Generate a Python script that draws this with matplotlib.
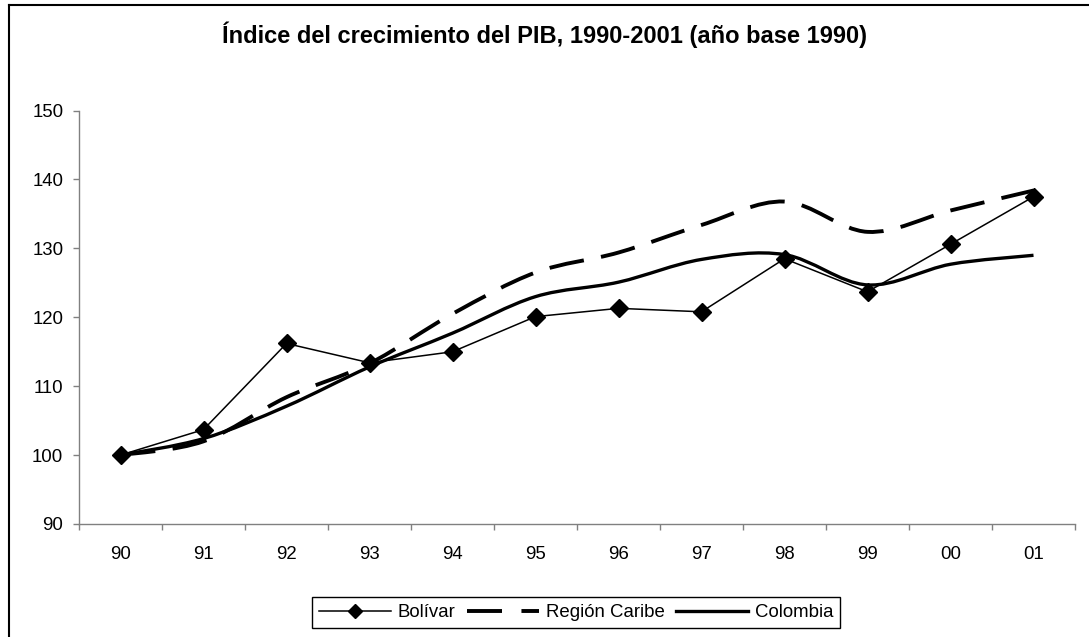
import matplotlib
matplotlib.use('Agg')
import matplotlib.pyplot as plt
import numpy as np
from matplotlib.path import Path
from matplotlib.patches import PathPatch
from matplotlib.lines import Line2D

plt.rcParams['font.family'] = ['Liberation Sans', 'DejaVu Sans']

years = ['90', '91', '92', '93', '94', '95', '96', '97', '98', '99', '00', '01']
bolivar = [100, 103.7, 116.2, 113.4, 115.0, 120.1, 121.3, 120.8, 128.5, 123.7, 130.6, 137.5]
caribe = [100, 102.0, 108.4, 113.3, 120.5, 126.5, 129.4, 133.4, 136.8, 132.4, 135.5, 138.4]
colombia = [100, 102.4, 107.1, 112.8, 117.7, 123.0, 125.1, 128.4, 129.1, 124.7, 127.7, 129.0]
labels = ['Bolívar', 'Región Caribe', 'Colombia']
title = 'Índice del crecimiento del PIB, 1990-2001 (año base 1990)'

W, H = 1089, 637
fig = plt.figure(figsize=(W / 100, H / 100), dpi=100)
ax = fig.add_axes([79 / W, 1 - 524 / H, (1075 - 79) / W, (524 - 110.6) / H])

x = np.arange(len(years))


def smooth_path(xs, ys):
    pts = np.column_stack([xs, ys]).astype(float)
    n = len(pts)
    verts = [pts[0]]
    codes = [Path.MOVETO]
    for i in range(n - 1):
        p0 = pts[i - 1] if i > 0 else pts[i]
        p1 = pts[i]
        p2 = pts[i + 1]
        p3 = pts[i + 2] if i + 2 < n else pts[i + 1]
        c1 = p1 + (p2 - p0) / 6.0
        c2 = p2 - (p3 - p1) / 6.0
        verts += [c1, c2, p2]
        codes += [Path.CURVE4] * 3
    return Path(verts, codes)


dash = (0, (9, 4.5))
ax.add_patch(PathPatch(smooth_path(x, caribe), fill=False, lw=2.8, edgecolor='black',
                       linestyle=dash, capstyle='butt', zorder=2))
ax.add_patch(PathPatch(smooth_path(x, colombia), fill=False, lw=2.4, edgecolor='black',
                       capstyle='butt', zorder=3))
ax.plot(x, bolivar, color='black', lw=1.1, marker='D', ms=9.5, zorder=4)

ax.set_xlim(-0.5, len(years) - 0.5)
ax.set_ylim(90, 150)
ax.set_yticks(np.arange(90, 151, 10))
ax.set_xticks(x)
ax.set_xticklabels(years)
ax.set_xticks(np.arange(-0.5, len(years)), minor=True)
ax.tick_params(axis='x', which='major', length=0, pad=16, labelsize=13.4)
ax.tick_params(axis='x', which='minor', length=4.3, width=1.0, color='#808080', direction='out')
ax.tick_params(axis='y', which='major', length=4.3, width=1.0, color='#808080', pad=7, labelsize=13.4)

for s in ['top', 'right']:
    ax.spines[s].set_visible(False)
for s in ['left', 'bottom']:
    ax.spines[s].set_color('#808080')
    ax.spines[s].set_linewidth(1.0)

fig.text(545 / W, 1 - 35 / H, title, ha='center', va='center', fontsize=17, fontweight='bold')

handles = [
    Line2D([], [], color='black', lw=1.1, marker='D', ms=7),
    Line2D([], [], color='black', lw=2.8, linestyle=(0, (9, 5))),
    Line2D([], [], color='black', lw=2.4),
]
leg = fig.legend(handles, labels, loc='center', bbox_to_anchor=(576 / W, 1 - 612.5 / H),
                 bbox_transform=fig.transFigure, ncol=3, fontsize=13.4, frameon=True,
                 fancybox=False, framealpha=1, edgecolor='black', handlelength=3.9,
                 handletextpad=0.35, columnspacing=0.6, borderpad=0.35)
leg.get_frame().set_linewidth(1.0)

fig.add_artist(Line2D([9 / W, 1], [1 - 5 / H, 1 - 5 / H], transform=fig.transFigure,
                      color='black', lw=1.5))
fig.add_artist(Line2D([9 / W, 9 / W], [0, 1 - 5 / H], transform=fig.transFigure,
                      color='black', lw=1.5))

fig.savefig('out.png', dpi=100)
